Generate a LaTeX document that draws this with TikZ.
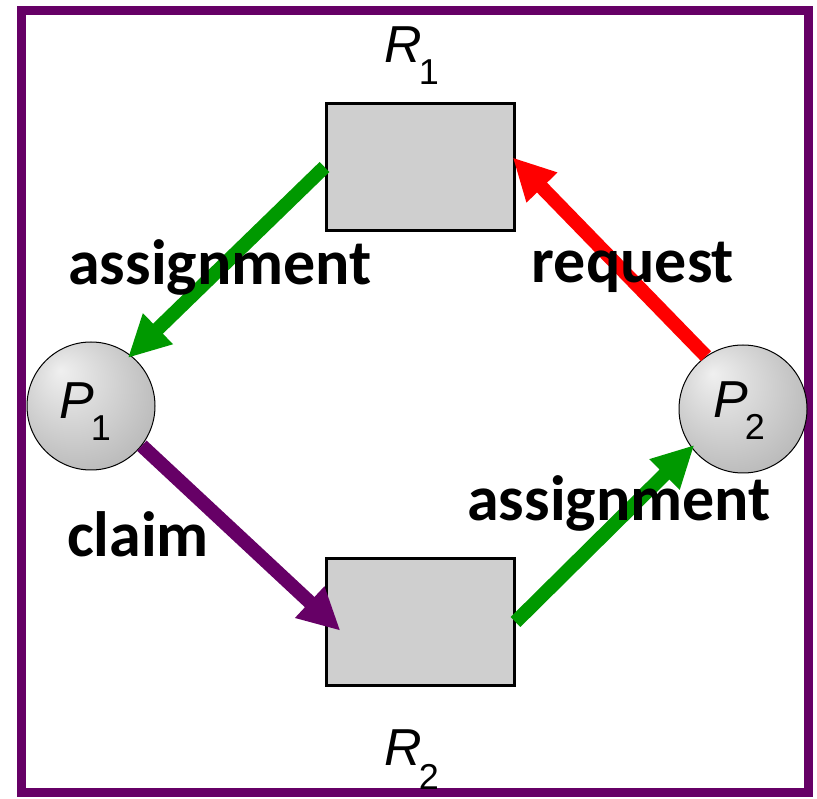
\documentclass[tikz,border=0pt]{standalone}
\usepackage{fontspec}
\setmainfont{Carlito}
\newfontfamily\helv{Liberation Sans}
\usetikzlibrary{arrows.meta,positioning,calc}
\definecolor{frameviolet}{RGB}{102,0,102}
\definecolor{assigngreen}{RGB}{0,153,0}
\pgfdeclareradialshading{procball}{\pgfpoint{-12bp}{14bp}}{%
  color(0bp)=(black!6); color(12bp)=(black!14); color(32bp)=(black!27); color(50bp)=(black!38)}
% name with subscript: #1 letter size, #2 letter, #3 index size, #4 drop, #5 index
\newcommand{\idx}[5]{{\helv\fontsize{#1}{#1}\selectfont\itshape #2}\kern-3pt{\helv\fontsize{#3}{#3}\selectfont\raisebox{-#4}{#5}}}
\tikzset{
  res/.style={draw, line width=3pt, fill=black!19, minimum width=188pt, minimum height=127pt, inner sep=0pt},
  proc/.style={circle, draw, line width=1pt, shading=procball, minimum size=128pt, inner sep=0pt},
  tag/.style={anchor=base west, inner sep=0pt},
  edge/.style={line width=14pt, -{Triangle[length=42pt,width=40pt]}, shorten >=-4pt},
  word/.style={anchor=base, inner sep=0pt, font=\fontsize{64}{64}\selectfont\bfseries}
}
\begin{document}
\begin{tikzpicture}[x=1pt,y=-1pt,line join=miter]
  \useasboundingbox (0,0) rectangle (817,799);
  \draw[frameviolet, line width=9pt] (21.5,11) rectangle (808,792);
  % resources and processes
  \node[res] (r1) at (420,167) {};
  \node[res] (r2) at (420,622) {};
  \node[proc] (p1) at (91,406) {};
  \node[proc] (p2) at (743,409) {};
  \node[tag] (p1name) at (59,419) {\idx{52}{P}{36}{22pt}{1}};
  \node[tag] (p2name) at (713,418) {\idx{52}{P}{36}{22pt}{2}};
  \node[tag] (r1name) at (384,63) {\idx{52}{R}{36}{22pt}{1}};
  \node[tag] (r2name) at (384,765) {\idx{52}{R}{36}{24pt}{2}};
  % edges
  \draw[edge, assigngreen] (r1.west) -- (p1.52);
  \draw[edge, red] (p2.125) -- (r1.4);
  \draw[edge, frameviolet] (p1.-38) -- ($(r2.west)+(13,6)$);
  \draw[edge, assigngreen] (r2.east) -- (p2.217);
  % labels
  \node[word] (w1) at (220,285) {assignment};
  \node[word] (w2) at (633,283) {request};
  \node[word] (w3) at (138,556) {claim};
  \node[word] (w4) at (619,520) {assignment};
\end{tikzpicture}
\end{document}
